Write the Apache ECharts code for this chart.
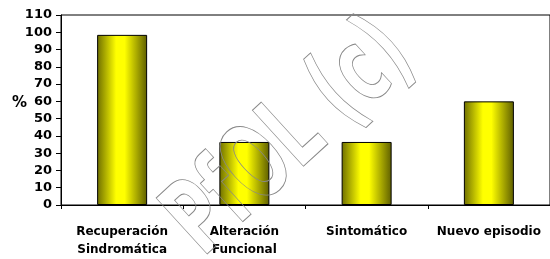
<!DOCTYPE html>
<html><head><meta charset="utf-8">
<script src="https://cdn.jsdelivr.net/npm/echarts@6/dist/echarts.min.js"></script>
<style>html,body{margin:0;padding:0;background:#fff}#c{width:550px;height:259px}</style>
</head><body><div id="c"></div>
<script>
var categories = ['Recuperación\nSindromática', 'Alteración\nFuncional', 'Sintomático', 'Nuevo episodio'];
var values = [98.5, 36.5, 36.5, 60];
var yTicks = {min: 0, max: 110, interval: 10};
var yName = '%';
var watermark = 'PfOL (c)';

var chart = echarts.init(document.getElementById('c'), null, {renderer: 'canvas'});
var font = '"DejaVu Sans", Verdana, sans-serif';
chart.setOption({
  animation: false,
  backgroundColor: '#fff',
  grid: {left: 61, right: -1, top: 15, bottom: 52, show: true, borderColor: '#000', borderWidth: 1, backgroundColor: 'transparent'},
  xAxis: {
    type: 'category', data: categories,
    axisLine: {lineStyle: {color: '#000', width: 1}},
    axisTick: {show: true, length: 4, lineStyle: {color: '#000'}},
    axisLabel: {color: '#000', fontFamily: font, fontWeight: 'bold', fontSize: 12, lineHeight: 18, margin: 18, interval: 0}
  },
  yAxis: {
    type: 'value', min: yTicks.min, max: yTicks.max, interval: yTicks.interval,
    axisLine: {show: true, lineStyle: {color: '#000', width: 1}},
    axisTick: {show: true, length: 5, lineStyle: {color: '#000'}},
    splitLine: {show: false},
    axisLabel: {color: '#000', fontFamily: font, fontWeight: 'bold', fontSize: 13, margin: 9}
  },
  series: [{
    type: 'bar', data: values, barWidth: 50,
    itemStyle: {
      borderColor: '#000', borderWidth: 1,
      color: {type: 'linear', x: 0, y: 0, x2: 1, y2: 0, colorStops: [
        {offset: 0, color: '#6e6e00'}, {offset: 0.38, color: '#ffff00'},
        {offset: 0.55, color: '#ffff00'}, {offset: 1, color: '#5e5e00'}]}
    }
  }],
  graphic: [
    {type: 'text', left: 12, top: 96, style: {text: yName, font: 'bold 15px ' + font, fill: '#000'}},
    {type: 'text', x: 292, y: 140, rotation: 0.74, scaleX: 0.62, z: 100,
     style: {text: watermark, font: 'bold 104px ' + font, fill: 'transparent', stroke: '#888', lineWidth: 1, align: 'center', verticalAlign: 'middle'}}
  ]
});
</script></body></html>
